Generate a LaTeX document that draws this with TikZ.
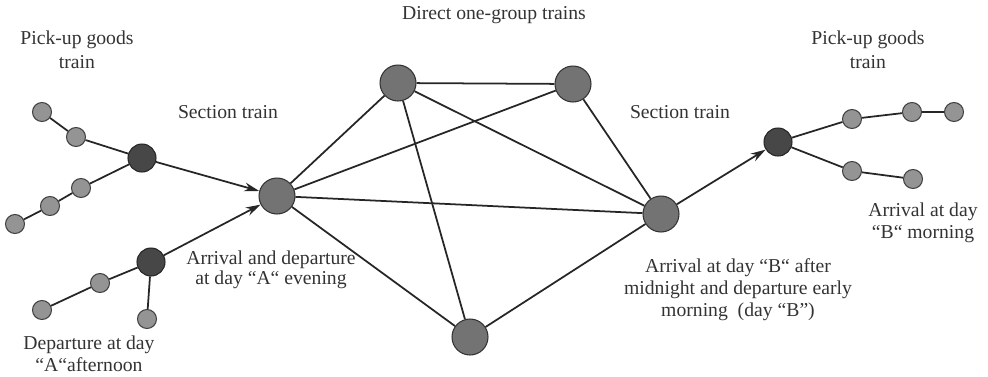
\documentclass[tikz,border=0pt]{standalone}
\usepackage{fontspec}
\setmainfont{Liberation Serif}
\usetikzlibrary{arrows.meta}
\begin{document}
\begin{tikzpicture}[x=0.02cm,y=-0.02cm,
		hub/.style={circle,draw=black!80,fill=black!55,line width=0.6pt,minimum size=0.72cm,inner sep=0pt},
		junc/.style={circle,draw=black!85,fill=black!72,line width=0.6pt,minimum size=0.56cm,inner sep=0pt},
		stop/.style={circle,draw=black!75,fill=black!42,line width=0.6pt,minimum size=0.38cm,inner sep=0pt},
		track/.style={draw=black!85,line width=1pt},
		feed/.style={track,-{Stealth[length=8.5pt,width=5pt]}},
		lbl/.style={text=black!80,align=center,inner sep=0pt,font=\fontsize{11.2}{13.4}\selectfont}]
				\useasboundingbox (0,0) rectangle (988,376);
				\node[hub] (A) at (277,196) {};
				\node[hub] (T1) at (398,83) {};
				\node[hub] (T2) at (573,84) {};
				\node[hub] (B) at (661,214) {};
				\node[hub] (C) at (470,337) {};
				\node[junc] (L1) at (142,158) {};
				\node[stop] (l11) at (76,137) {};
				\node[stop] (l12) at (42,112) {};
				\node[stop] (l13) at (81,188) {};
				\node[stop] (l14) at (50,206) {};
				\node[stop] (l15) at (15,224) {};
				\node[junc] (L2) at (151,262) {};
				\node[stop] (l21) at (100,283) {};
				\node[stop] (l22) at (42,310) {};
				\node[stop] (l23) at (147,319) {};
				\node[junc] (R1) at (778,142) {};
				\node[stop] (r11) at (852,119) {};
				\node[stop] (r12) at (912,112) {};
				\node[stop] (r13) at (954,112) {};
				\node[stop] (r14) at (852,171) {};
				\node[stop] (r15) at (913,179) {};
				\draw[track] (l12) -- (l11) -- (L1) -- (l13) -- (l14) -- (l15);
				\draw[track] (l22) -- (l21) -- (L2) -- (l23);
				\draw[track] (r13) -- (r12) -- (r11) -- (R1) -- (r14) -- (r15);
				\draw[feed] (L1) -- (A);
				\draw[feed] (L2) -- (A);
				\draw[feed] (B) -- (R1);
				\draw[track] (A) -- (T1) -- (T2) -- (B) -- (C) -- (A);
				\draw[track] (A) -- (T2);
				\draw[track] (A) -- (B);
				\draw[track] (T1) -- (B);
				\draw[track] (T1) -- (C);
				\node[lbl] (pickL) at (77,50) {Pick-up goods\\train};
				\node[lbl] (secL) at (228,112) {Section train};
				\node[lbl] (direct) at (494,15) {Direct one-group trains};
				\node[lbl] (secR) at (680,112) {Section train};
				\node[lbl] (pickR) at (868,50) {Pick-up goods\\train};
				\node[lbl,font=\fontsize{11.2}{9.8}\selectfont] (arrA) at (271,270) {Arrival and departure\\at day “A“ evening};
				\node[lbl,font=\fontsize{11.2}{12.6}\selectfont] (depA) at (89,354) {Departure at day\\“A“afternoon};
				\node[lbl,font=\fontsize{11.2}{12.6}\selectfont] (arrB) at (738,290) {Arrival at day “B“ after\\midnight and departure early\\morning~ (day “B”)};
				\node[lbl,font=\fontsize{11.2}{12.6}\selectfont] (morB) at (923,223) {Arrival at day\\“B“ morning};
			\end{tikzpicture}
\end{document}
